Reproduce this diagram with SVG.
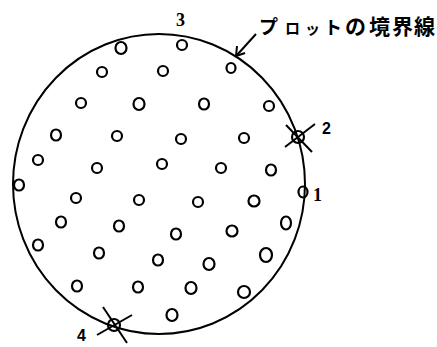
<svg xmlns="http://www.w3.org/2000/svg" width="437" height="347" viewBox="0 0 437 347">
<style>
.t{fill:none;stroke:#000;stroke-width:2.2}
.b{fill:none;stroke:#000;stroke-width:2}
.x{stroke:#000;stroke-width:2;fill:none}
.n{font-family:"Liberation Serif",serif;font-size:18px;font-weight:700;fill:#000}
.s{font-family:"Liberation Sans",sans-serif;font-size:16px;font-weight:700;fill:#000}
.j{font-family:"Noto Sans CJK JP",sans-serif;font-weight:700;fill:#000}
</style>
<rect width="437" height="347" fill="#fff"/>
<g id="boundary">
<ellipse cx="159" cy="184" rx="146" ry="150" class="b"/>
</g>
<g id="trees">
<ellipse cx="121" cy="48" rx="5.5" ry="6" class="t"/>
<ellipse cx="182" cy="45" rx="5" ry="5" class="t"/>
<ellipse cx="102" cy="72" rx="5" ry="5" class="t"/>
<ellipse cx="163" cy="71" rx="5" ry="5" class="t"/>
<ellipse cx="231" cy="68" rx="4.5" ry="5" class="t"/>
<ellipse cx="81" cy="103" rx="5" ry="5" class="t"/>
<ellipse cx="139" cy="104" rx="5.5" ry="6" class="t"/>
<ellipse cx="204" cy="104" rx="5" ry="5.5" class="t"/>
<ellipse cx="269" cy="106" rx="5" ry="5" class="t"/>
<ellipse cx="56" cy="135" rx="5" ry="5.5" class="t"/>
<ellipse cx="117" cy="136" rx="5" ry="5" class="t"/>
<ellipse cx="181" cy="139" rx="5" ry="5" class="t"/>
<ellipse cx="244" cy="138" rx="5" ry="5" class="t"/>
<ellipse cx="38" cy="160" rx="5" ry="5" class="t"/>
<ellipse cx="97" cy="168" rx="5" ry="5" class="t"/>
<ellipse cx="162" cy="164" rx="5" ry="5" class="t"/>
<ellipse cx="221" cy="168" rx="5" ry="5" class="t"/>
<ellipse cx="271" cy="170" rx="5" ry="5.5" class="t"/>
<ellipse cx="19" cy="185" rx="5" ry="5.5" class="t"/>
<ellipse cx="76" cy="198" rx="5" ry="5" class="t"/>
<ellipse cx="139" cy="200" rx="5" ry="5" class="t"/>
<ellipse cx="198" cy="202" rx="5" ry="5" class="t"/>
<ellipse cx="254" cy="201" rx="5.5" ry="5.5" class="t"/>
<ellipse cx="61" cy="222" rx="5" ry="5.5" class="t"/>
<ellipse cx="119" cy="226" rx="5" ry="5.5" class="t"/>
<ellipse cx="176" cy="234" rx="5" ry="5.5" class="t"/>
<ellipse cx="232" cy="231" rx="5.5" ry="5.5" class="t"/>
<ellipse cx="286" cy="223" rx="5" ry="6.5" class="t"/>
<ellipse cx="38" cy="245" rx="5" ry="5.5" class="t"/>
<ellipse cx="99" cy="253" rx="5" ry="5.5" class="t"/>
<ellipse cx="158" cy="260" rx="5" ry="5.5" class="t"/>
<ellipse cx="209" cy="264" rx="5.5" ry="6" class="t"/>
<ellipse cx="266" cy="255" rx="6" ry="7" class="t"/>
<ellipse cx="77" cy="286" rx="5" ry="5.5" class="t"/>
<ellipse cx="138" cy="287" rx="5" ry="5.5" class="t"/>
<ellipse cx="191" cy="288" rx="5.5" ry="6" class="t"/>
<ellipse cx="244" cy="292" rx="6" ry="6" class="t"/>
<ellipse cx="172" cy="315" rx="5.5" ry="6" class="t"/>
</g>
<g id="tree1">
<ellipse cx="303" cy="192" rx="4.5" ry="5.5" class="t"/>
<text class="n" x="313" y="201">1</text>
</g>
<g id="tree2">
<ellipse cx="298" cy="137" rx="6" ry="6" class="t"/>
<line x1="285" y1="147" x2="315" y2="124" class="x"/>
<line x1="286" y1="125" x2="312" y2="152" class="x"/>
<text class="s" x="322" y="134">2</text>
</g>
<g id="tree3">
<text class="n" x="176" y="26">3</text>
</g>
<g id="tree4">
<ellipse cx="114" cy="325" rx="6" ry="6" class="t"/>
<line x1="103" y1="307" x2="127" y2="343" class="x"/>
<line x1="97" y1="335" x2="132" y2="315" class="x"/>
<text class="s" x="77" y="341">4</text>
</g>
<g id="label">
<text class="j" y="34"><tspan x="259" font-size="19">プ</tspan><tspan x="285" font-size="15">ロ</tspan><tspan x="305" font-size="15">ッ</tspan><tspan x="324" font-size="18">ト</tspan><tspan x="345" font-size="21">の</tspan><tspan x="369" font-size="21">境</tspan><tspan x="392" font-size="21">界</tspan><tspan x="414" font-size="21">線</tspan></text>
</g>
<g id="connectors">
<line x1="256" y1="34" x2="237" y2="55" class="x"/>
<polyline points="237,46 236,56 245,53" class="x"/>
</g>
</svg>
